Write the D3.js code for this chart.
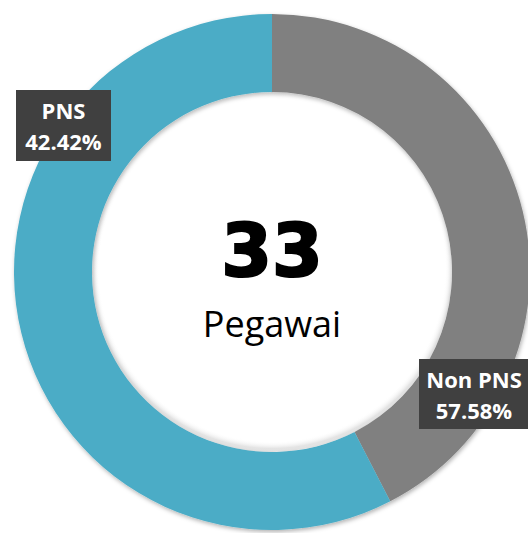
<!DOCTYPE html>
<html>
<head>
<meta charset="utf-8">
<script src="https://cdn.jsdelivr.net/npm/d3@7"></script>
<style>
  html, body { margin: 0; padding: 0; background: #fff; }
  svg { display: block; }
</style>
</head>
<body>
<svg id="chart" width="528" height="533"></svg>
<script>
// Data as drawn in the reference (arc sizes), with their printed labels
const categories = ["Non PNS", "PNS"];
const values = [14, 19];
const percentLabels = ["57.58%", "42.42%"];
const colors = ["#808080", "#4BACC6"];
const totalValue = 33;
const centerLabel = "Pegawai";

const svg = d3.select("#chart");
const cx = 272, cy = 272, rOuter = 258, rInner = 180;

const defs = svg.append("defs");
const f = defs.append("filter").attr("id", "shadow")
  .attr("x", "-10%").attr("y", "-10%").attr("width", "120%").attr("height", "120%");
f.append("feDropShadow").attr("dx", 1).attr("dy", 2).attr("stdDeviation", 2)
  .attr("flood-color", "#000").attr("flood-opacity", 0.3);

const g = svg.append("g").attr("transform", `translate(${cx},${cy})`);

const pie = d3.pie().sort(null).value(d => d.v);
const data = categories.map((c, i) => ({ c, v: values[i], p: percentLabels[i], col: colors[i] }));
const arcs = pie(data);
const arc = d3.arc().innerRadius(rInner).outerRadius(rOuter);

g.append("g").attr("filter", "url(#shadow)")
  .selectAll("path").data(arcs).join("path")
  .attr("d", arc)
  .attr("fill", d => d.data.col);

// Inner shadow hint
const ig = defs.append("radialGradient").attr("id", "innerSh")
  .attr("cx", "50%").attr("cy", "49%").attr("r", "50%");
ig.append("stop").attr("offset", "0.96").attr("stop-color", "#fff").attr("stop-opacity", 0);
ig.append("stop").attr("offset", "1").attr("stop-color", "#bbb").attr("stop-opacity", 0.4);
g.append("circle").attr("r", rInner).attr("fill", "url(#innerSh)");

// Center text
g.append("text")
  .attr("x", 0).attr("y", 4)
  .attr("text-anchor", "middle")
  .attr("font-family", "'DejaVu Sans', sans-serif")
  .attr("font-weight", "bold")
  .attr("font-size", 73)
  .attr("stroke", "#000").attr("stroke-width", 2.2)
  .attr("fill", "#000")
  .text(totalValue);

g.append("text")
  .attr("x", 0).attr("y", 65)
  .attr("text-anchor", "middle")
  .attr("font-family", "'Open Sans', sans-serif")
  .attr("font-size", 36)
  .attr("fill", "#000")
  .text(centerLabel);

// Label boxes (positions relative to center)
const labelPos = [
  { x: 419 - cx, y: 359 - cy, w: 112, h: 70, tx: 55 },
  { x: 16 - cx, y: 90 - cy, w: 95, h: 71, tx: 47.5 }
];
const lab = g.selectAll("g.lab").data(arcs).join("g").attr("class", "lab")
  .attr("transform", (d, i) => `translate(${labelPos[i].x},${labelPos[i].y})`);
lab.append("rect")
  .attr("width", (d, i) => labelPos[i].w)
  .attr("height", (d, i) => labelPos[i].h)
  .attr("fill", "#404040");
lab.append("text")
  .attr("x", (d, i) => labelPos[i].tx)
  .attr("y", 29)
  .attr("text-anchor", "middle")
  .attr("font-family", "'Open Sans', sans-serif")
  .attr("font-weight", "bold")
  .attr("font-size", 22)
  .attr("fill", "#fff")
  .text(d => d.data.c);
lab.append("text")
  .attr("x", (d, i) => labelPos[i].tx)
  .attr("y", 60)
  .attr("text-anchor", "middle")
  .attr("font-family", "'Open Sans', sans-serif")
  .attr("font-weight", "bold")
  .attr("font-size", 22)
  .attr("fill", "#fff")
  .text(d => d.data.p);
</script>
</body>
</html>
